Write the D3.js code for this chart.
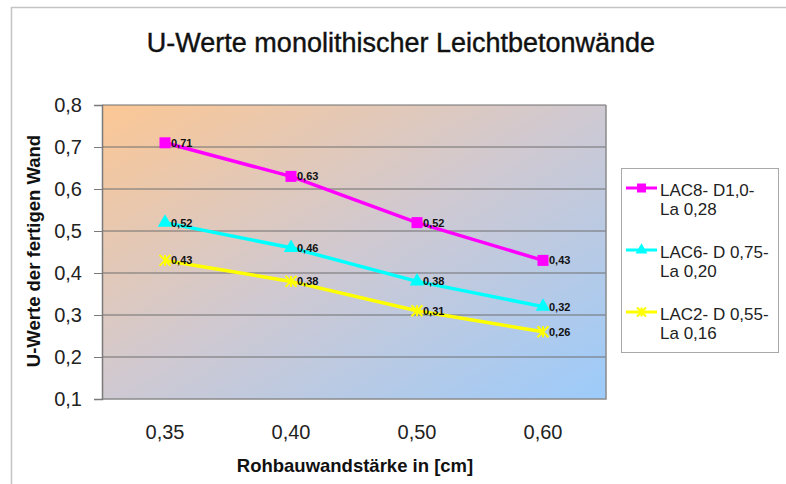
<!DOCTYPE html>
<html>
<head>
<meta charset="utf-8">
<script src="https://cdn.jsdelivr.net/npm/d3@7/dist/d3.min.js"></script>
<style>
  html, body { margin: 0; padding: 0; background: #fff; }
  svg { display: block; font-family: "Liberation Sans", Arial, sans-serif; }
</style>
</head>
<body>
<svg id="chart" width="786" height="484"></svg>
<script>
// Wall thickness categories (x axis)
const categories = ["0,35", "0,40", "0,50", "0,60"];

// U-values per concrete type
const lac8 = [0.71, 0.63, 0.52, 0.43];
const lac6 = [0.52, 0.46, 0.38, 0.32];
const lac2 = [0.43, 0.38, 0.31, 0.26];

const seriesNames = [
  ["LAC8- D1,0-", "La 0,28"],
  ["LAC6- D 0,75-", "La 0,20"],
  ["LAC2- D 0,55-", "La 0,16"]
];
const seriesColors = ["#ff00ff", "#00ffff", "#ffff00"];
const seriesSymbols = ["square", "triangle", "star"];

const yTicks = [0.1, 0.2, 0.3, 0.4, 0.5, 0.6, 0.7, 0.8];

const title = "U-Werte monolithischer Leichtbetonwände";
const xTitle = "Rohbauwandstärke in [cm]";
const yTitle = "U-Werte der fertigen Wand";

const series = [lac8, lac6, lac2].map((values, i) => ({
  name: seriesNames[i], color: seriesColors[i], symbol: seriesSymbols[i], values
}));

const svg = d3.select("#chart");
const plot = { left: 102, top: 105, right: 606, bottom: 399 };

const x = d3.scaleBand().domain(categories).range([plot.left, plot.right]);
const y = d3.scaleLinear().domain([0.1, 0.8]).range([plot.bottom, plot.top]);
const fmt = v => d3.format(".1f")(v).replace(".", ",");
const fmtLabel = v => d3.format(".2f")(v).replace(".", ",");

// Outer chart frame
svg.append("rect")
  .attr("x", 11.5).attr("y", 7.5).attr("width", 800).attr("height", 500)
  .attr("fill", "#fff").attr("stroke", "#c4c4c4").attr("stroke-width", 1.5);

// Plot background gradient
const defs = svg.append("defs");
const grad = defs.append("linearGradient").attr("id", "bg")
  .attr("x1", "0").attr("y1", "0").attr("x2", "1").attr("y2", "1");
grad.append("stop").attr("offset", "0%").attr("stop-color", "#fcc794");
grad.append("stop").attr("offset", "50%").attr("stop-color", "#cfc9d2");
grad.append("stop").attr("offset", "100%").attr("stop-color", "#9ccbfb");

svg.append("rect")
  .attr("x", plot.left).attr("y", plot.top)
  .attr("width", plot.right - plot.left).attr("height", plot.bottom - plot.top)
  .attr("fill", "url(#bg)");

// Horizontal gridlines
svg.append("g")
  .selectAll("line")
  .data(yTicks.slice(1))
  .join("line")
  .attr("x1", plot.left).attr("x2", plot.right)
  .attr("y1", d => y(d)).attr("y2", d => y(d))
  .attr("stroke", "#6e6e6e").attr("stroke-width", 1);

// Plot border: right and bottom edges
svg.append("path")
  .attr("d", `M${plot.right},${plot.top}V${plot.bottom}H${plot.left}`)
  .attr("fill", "none").attr("stroke", "#8a8a8a").attr("stroke-width", 1.5);

// Y axis
const yAxis = svg.append("g")
  .attr("transform", `translate(${plot.left},0)`)
  .call(d3.axisLeft(y).tickValues(yTicks).tickFormat(fmt).tickSize(8).tickPadding(12));
yAxis.select(".domain").attr("stroke", "#7a7a7a").attr("stroke-width", 1.5);
yAxis.selectAll(".tick line").attr("stroke", "#7a7a7a");
yAxis.selectAll("text")
  .attr("font-size", 20).attr("fill", "#222")
  .attr("font-family", "Liberation Sans, Arial, sans-serif");

// X axis (labels only)
const xAxis = svg.append("g")
  .attr("transform", `translate(0,${plot.bottom})`)
  .call(d3.axisBottom(x).tickSize(0).tickPadding(26));
xAxis.select(".domain").remove();
xAxis.selectAll("text")
  .attr("font-size", 20).attr("fill", "#222")
  .attr("font-family", "Liberation Sans, Arial, sans-serif");

// Titles
svg.append("text")
  .attr("x", 401).attr("y", 52).attr("text-anchor", "middle")
  .attr("font-size", 27).attr("fill", "#111")
  .attr("stroke", "#111").attr("stroke-width", 0.4)
  .text(title);

svg.append("text")
  .attr("x", 355).attr("y", 472).attr("text-anchor", "middle")
  .attr("font-size", 18.5).attr("font-weight", "bold").attr("fill", "#111")
  .text(xTitle);

svg.append("text")
  .attr("transform", `translate(40,${(plot.top + plot.bottom) / 2 - 1}) rotate(-90)`)
  .attr("text-anchor", "middle")
  .attr("font-size", 18.5).attr("font-weight", "bold").attr("fill", "#111")
  .text(yTitle);

// Marker drawing
function marker(g, type, color, size) {
  if (type === "square") {
    g.append("rect")
      .attr("x", -size / 2).attr("y", -size / 2)
      .attr("width", size).attr("height", size)
      .attr("fill", color);
  } else if (type === "triangle") {
    g.append("path")
      .attr("d", d3.symbol(d3.symbolTriangle, size * size * 0.75)())
      .attr("fill", color);
  } else {
    const r = size / 2;
    g.append("path")
      .attr("d", `M${-r},${-r}L${r},${r}M${-r},${r}L${r},${-r}M0,${-r}V${r}`)
      .attr("stroke", color).attr("stroke-width", 2).attr("fill", "none");
  }
}

const line = d3.line()
  .x((d, i) => x(categories[i]) + x.bandwidth() / 2)
  .y(d => y(d));

const seriesG = svg.append("g");
series.forEach(s => {
  seriesG.append("path")
    .attr("d", line(s.values))
    .attr("fill", "none").attr("stroke", s.color).attr("stroke-width", 3.5);
});
series.forEach(s => {
  s.values.forEach((v, i) => {
    const cx = x(categories[i]) + x.bandwidth() / 2;
    const cy = y(v);
    const g = seriesG.append("g").attr("transform", `translate(${cx},${cy})`);
    marker(g, s.symbol, s.color, 11);
    g.append("text")
      .attr("x", 6).attr("y", 4)
      .attr("font-size", 11).attr("font-weight", "bold").attr("fill", "#111")
      .text(fmtLabel(v));
  });
});

// Legend
const legend = svg.append("g");
legend.append("rect")
  .attr("x", 621.5).attr("y", 168.5).attr("width", 157).attr("height", 184)
  .attr("fill", "#fff").attr("stroke", "#a8a8a8").attr("stroke-width", 1);

series.forEach((s, i) => {
  const ly = 188 + i * 62;
  const g = legend.append("g").attr("transform", `translate(0,${ly})`);
  g.append("line")
    .attr("x1", 626).attr("x2", 657).attr("y1", 0).attr("y2", 0)
    .attr("stroke", s.color).attr("stroke-width", 3);
  const mg = g.append("g").attr("transform", "translate(641.5,0)");
  marker(mg, s.symbol, s.color, 9);
  const t = g.append("text")
    .attr("x", 660).attr("y", 8)
    .attr("font-size", 17).attr("fill", "#222");
  t.append("tspan").attr("x", 660).attr("dy", 0).text(s.name[0]);
  t.append("tspan").attr("x", 660).attr("dy", 19).text(s.name[1]);
});
</script>
</body>
</html>
